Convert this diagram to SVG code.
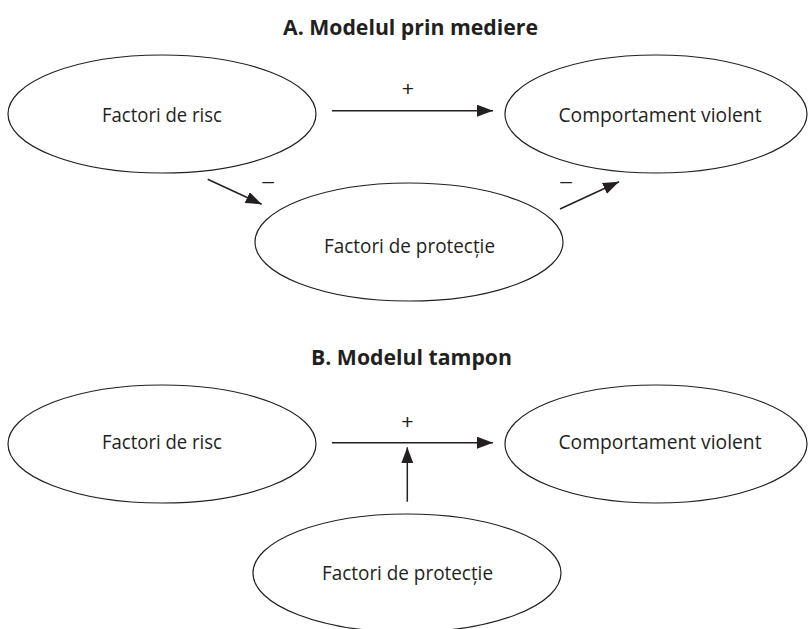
<svg xmlns="http://www.w3.org/2000/svg" width="809" height="629" viewBox="0 0 809 629">
  <style>
    .node ellipse { fill: #ffffff; stroke: #231f20; stroke-width: 1.2; }
    .label { font-family: "Open Sans", "Liberation Sans", Arial, sans-serif; font-size: 19.5px; fill: #231f20; text-anchor: middle; }
    .title { font-family: "Open Sans", "Liberation Sans", Arial, sans-serif; font-size: 20.5px; font-weight: bold; fill: #231f20; text-anchor: middle; }
    .conn line { stroke: #231f20; stroke-width: 1.5; marker-end: url(#arrow); }
    .sign { font-family: "Liberation Sans", Arial, sans-serif; font-size: 21px; fill: #231f20; text-anchor: middle; }
  </style>
  <defs>
    <marker id="arrow" markerUnits="userSpaceOnUse" markerWidth="16" markerHeight="12" refX="16" refY="6" orient="auto">
      <path d="M0,0 L16,6 L0,12 z" fill="#231f20"/>
    </marker>
  </defs>
  <rect width="809" height="629" fill="#ffffff"/>

  <!-- Section A -->
  <text class="title" x="410.5" y="35" textLength="255" lengthAdjust="spacingAndGlyphs">A. Modelul prin mediere</text>

  <g id="a-risc" class="node">
    <ellipse cx="162" cy="114" rx="154" ry="59"/>
    <text class="label" x="162" y="122.3" textLength="120" lengthAdjust="spacingAndGlyphs">Factori de risc</text>
  </g>
  <g id="a-comportament" class="node">
    <ellipse cx="656" cy="114" rx="151" ry="59"/>
    <text class="label" x="660" y="122.3" textLength="203" lengthAdjust="spacingAndGlyphs">Comportament violent</text>
  </g>
  <g id="a-protectie" class="node">
    <ellipse cx="409" cy="242" rx="154" ry="59"/>
    <text class="label" x="409.5" y="253.3" textLength="171" lengthAdjust="spacingAndGlyphs">Factori de protecție</text>
  </g>

  <g id="a-connectors" class="conn">
    <line x1="332" y1="110.7" x2="493" y2="110.7"/>
    <line x1="207.7" y1="179.3" x2="261.7" y2="204.3"/>
    <line x1="560" y1="209" x2="619" y2="181.7"/>
    <text class="sign" x="408" y="95.5">+</text>
    <text class="sign" x="268" y="188">–</text>
    <text class="sign" x="566" y="188">–</text>
  </g>

  <!-- Section B -->
  <text class="title" x="411.5" y="365" textLength="201" lengthAdjust="spacingAndGlyphs">B. Modelul tampon</text>

  <g id="b-risc" class="node">
    <ellipse cx="162" cy="444" rx="154" ry="59"/>
    <text class="label" x="162" y="448.5" textLength="120" lengthAdjust="spacingAndGlyphs">Factori de risc</text>
  </g>
  <g id="b-comportament" class="node">
    <ellipse cx="656" cy="444" rx="151" ry="59"/>
    <text class="label" x="660" y="448.5" textLength="203" lengthAdjust="spacingAndGlyphs">Comportament violent</text>
  </g>
  <g id="b-protectie" class="node">
    <ellipse cx="407" cy="573" rx="154" ry="59"/>
    <text class="label" x="407.5" y="580" textLength="171" lengthAdjust="spacingAndGlyphs">Factori de protecție</text>
  </g>

  <g id="b-connectors" class="conn">
    <line x1="332" y1="442.7" x2="493" y2="442.7"/>
    <line x1="407.3" y1="501.7" x2="407.3" y2="447.3"/>
    <text class="sign" x="407.3" y="429">+</text>
  </g>
</svg>
